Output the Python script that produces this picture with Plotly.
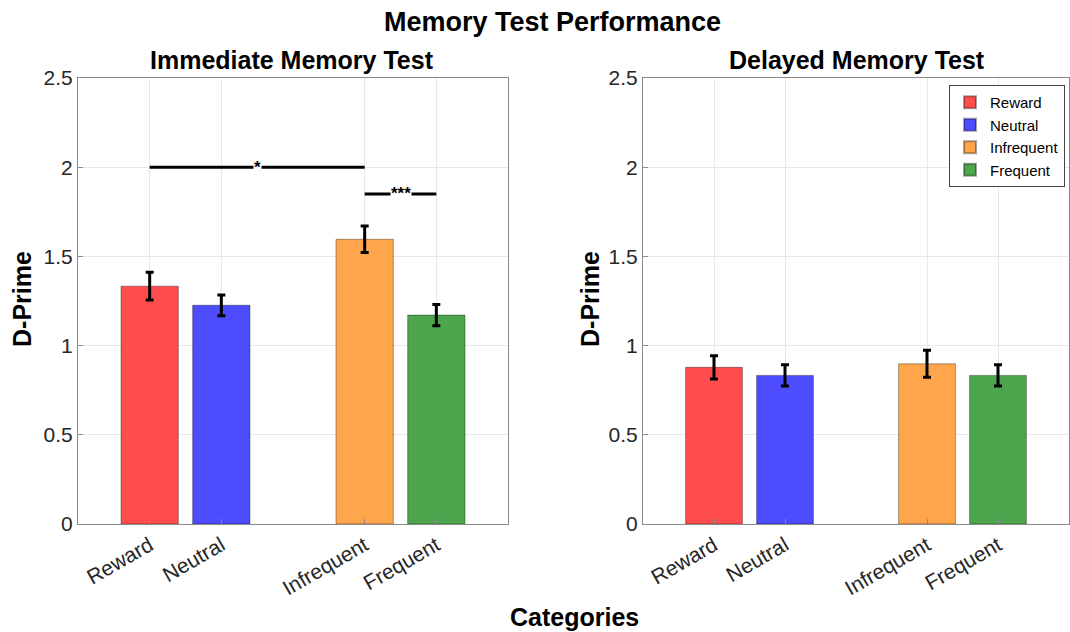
import plotly.graph_objects as go

categories = ["Reward", "Neutral", "Infrequent", "Frequent"]
positions = [1, 2, 4, 5]
colors = ["rgb(255,77,77)", "rgb(77,77,255)", "rgb(255,166,77)", "rgb(77,166,77)"]

immediate_vals = [1.333, 1.226, 1.596, 1.171]
immediate_err = [0.078, 0.058, 0.074, 0.060]
delayed_vals = [0.878, 0.833, 0.898, 0.833]
delayed_err = [0.065, 0.060, 0.076, 0.059]

# significance brackets
sig_x0 = [1, 4]
sig_x1 = [4, 5]
sig_y = [2.0, 1.85]
sig_labels = ["*", "***"]

yticks = [0, 0.5, 1, 1.5, 2, 2.5]
ytick_text = ["0", "0.5", "1", "1.5", "2", "2.5"]

FONT = "Liberation Sans, Arial, Helvetica, sans-serif"
W, H = 1070, 632

fig = go.Figure()

for col, (vals, errs) in enumerate([(immediate_vals, immediate_err), (delayed_vals, delayed_err)]):
    xa = "x" if col == 0 else "x2"
    ya = "y" if col == 0 else "y2"
    for i, cat in enumerate(categories):
        fig.add_trace(go.Bar(
            x=[positions[i]], y=[vals[i]], width=0.8,
            name=cat, showlegend=(col == 1),
            marker=dict(color=colors[i], line=dict(color="rgba(0,0,0,0.35)", width=1)),
            error_y=dict(type="data", array=[errs[i]], color="black", thickness=3, width=4),
            xaxis=xa, yaxis=ya,
        ))

ydom = [1 - 524 / H, 1 - 78 / H]
axis_common = dict(
    showline=True, linecolor="#8a8a8a", linewidth=1, mirror=True,
    showgrid=True, gridcolor="#e8e8e8", gridwidth=1,
    ticks="inside", ticklen=5, tickcolor="#8a8a8a",
    zeroline=False, automargin=False,
    tickfont=dict(family=FONT, size=21, color="#262626"),
)
xfont = dict(family=FONT, size=21, color="#262626")

fig.update_layout(
    template="none",
    width=W, height=H,
    margin=dict(l=0, r=0, t=0, b=0, pad=0, autoexpand=False),
    paper_bgcolor="white", plot_bgcolor="white",
    barmode="overlay",
    font=dict(family=FONT, color="#262626"),
    xaxis=dict(domain=[78 / W, 508 / W], range=[0, 6], tickvals=positions, ticktext=categories,
               tickangle=-30, anchor="y", **{**axis_common, "tickfont": xfont}),
    yaxis=dict(domain=ydom, range=[0, 2.5], tickvals=yticks, ticktext=ytick_text, anchor="x", **axis_common),
    xaxis2=dict(domain=[643 / W, 1069 / W], range=[0, 6], tickvals=positions, ticktext=categories,
                tickangle=-30, anchor="y2", **{**axis_common, "tickfont": xfont}),
    yaxis2=dict(domain=ydom, range=[0, 2.5], tickvals=yticks, ticktext=ytick_text, anchor="x2", **axis_common),
    legend=dict(x=949 / W, y=1 - 85 / H, xanchor="left", yanchor="top",
                bordercolor="#444", borderwidth=1, bgcolor="white",
                font=dict(family=FONT, size=15, color="black"),
                tracegroupgap=0, itemsizing="constant"),
)

# significance lines
for x0, x1, yv, lab in zip(sig_x0, sig_x1, sig_y, sig_labels):
    fig.add_shape(type="line", x0=x0, x1=x1, y0=yv, y1=yv, xref="x", yref="y",
                  line=dict(color="black", width=3))
    fig.add_annotation(x=(x0 + x1) / 2, y=yv, xref="x", yref="y", text="<b>%s</b>" % lab,
                       showarrow=False, bgcolor="white", borderpad=0, xanchor="center", yanchor="middle",
                       font=dict(family=FONT, size=17, color="black"), yshift=0)

def label(x, y, text, size, angle=0):
    fig.add_annotation(x=x / W, y=1 - y / H, xref="paper", yref="paper", text="<b>%s</b>" % text,
                       showarrow=False, xanchor="center", yanchor="middle", textangle=angle,
                       font=dict(family=FONT, size=size, color="black"))

label(552, 22, "Memory Test Performance", 27)
label(292, 60, "Immediate Memory Test", 25)
label(857, 60, "Delayed Memory Test", 25)
label(22, 299, "D-Prime", 25, -90)
label(590, 299, "D-Prime", 25, -90)
label(574, 617, "Categories", 25)

fig.write_html("out.html", post_script="document.body.style.margin='0';",
               config={"displayModeBar": False})
